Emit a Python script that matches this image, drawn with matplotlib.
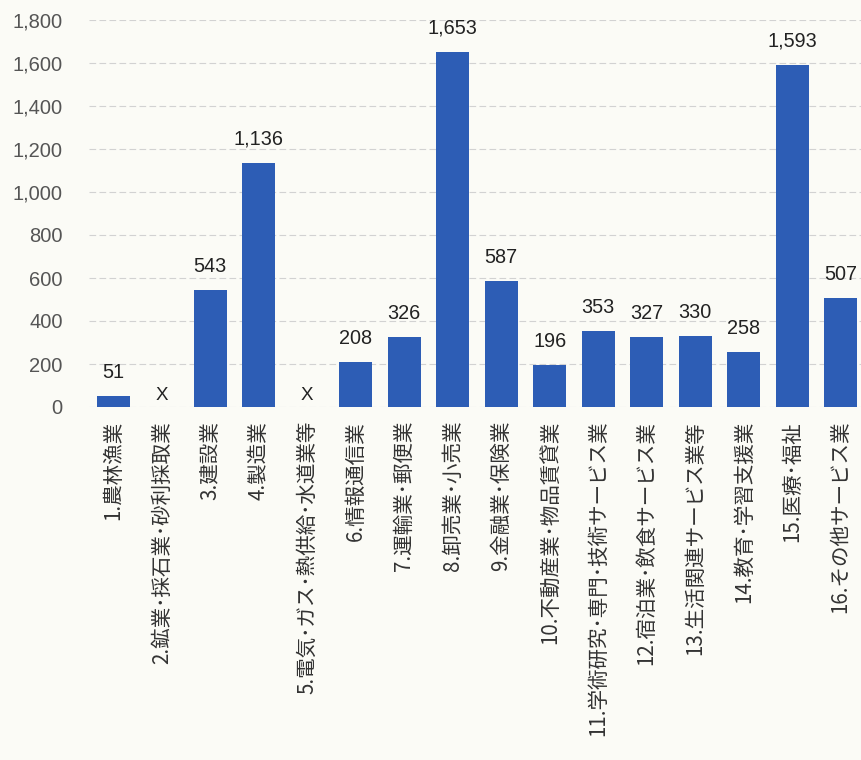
import matplotlib
matplotlib.use("Agg")
import matplotlib.pyplot as plt
import numpy as np

plt.rcParams['font.family'] = ['Liberation Sans', 'Noto Sans CJK JP', 'DejaVu Sans']

categories = [
    "1.農林漁業",
    "2.鉱業･採石業･砂利採取業",
    "3.建設業",
    "4.製造業",
    "5.電気･ガス･熱供給･水道業等",
    "6.情報通信業",
    "7.運輸業･郵便業",
    "8.卸売業･小売業",
    "9.金融業･保険業",
    "10.不動産業･物品賃貸業",
    "11.学術研究･専門･技術サービス業",
    "12.宿泊業･飲食サービス業",
    "13.生活関連サービス業等",
    "14.教育･学習支援業",
    "15.医療･福祉",
    "16.その他サービス業",
]
values = [51, None, 543, 1136, None, 208, 326, 1653, 587, 196, 353, 327, 330, 258, 1593, 507]
yticks = [0, 200, 400, 600, 800, 1000, 1200, 1400, 1600, 1800]

bg = '#fbfbf6'
bar_color = '#2d5db5'

fig = plt.figure(figsize=(8.61, 7.6), dpi=100, facecolor=bg)
ax = fig.add_axes([89/861, 353/760, 776/861, 387/760], facecolor=bg)

x = np.arange(len(categories))
for xi, v in zip(x, values):
    if v is None:
        ax.annotate("X", (xi, 0), xytext=(0, 2), textcoords='offset points',
                    ha='center', va='bottom', fontsize=13.5, color='#222222')
    else:
        ax.bar(xi, v, width=0.68, color=bar_color, zorder=3)
        ax.annotate(f"{v:,}", (xi, v), xytext=(0, 10), textcoords='offset points',
                    ha='center', va='bottom', fontsize=14.3, color='#222222')

ax.set_xlim(-0.5, len(categories) - 0.5)
ax.set_ylim(0, 1800)
ax.set_yticks(yticks)
ax.set_yticklabels([f"{t:,}" for t in yticks], fontsize=14.5, color='#555555')
ax.tick_params(axis='y', length=0, pad=19)
ax.tick_params(axis='x', length=0, pad=10)
ax.set_xticks(x)
ax.set_xticklabels(categories, rotation=90, ha='center', va='top',
                   fontsize=14.8, color='#333333',
                   fontfamily=['Noto Sans CJK JP', 'DejaVu Sans'])

for t in yticks:
    ax.axhline(t, color='#d2d2d2', linewidth=0.8, linestyle=(0, (6, 3)), zorder=1)

for s in ax.spines.values():
    s.set_visible(False)

fig.savefig("out.png", dpi=100, facecolor=bg)
